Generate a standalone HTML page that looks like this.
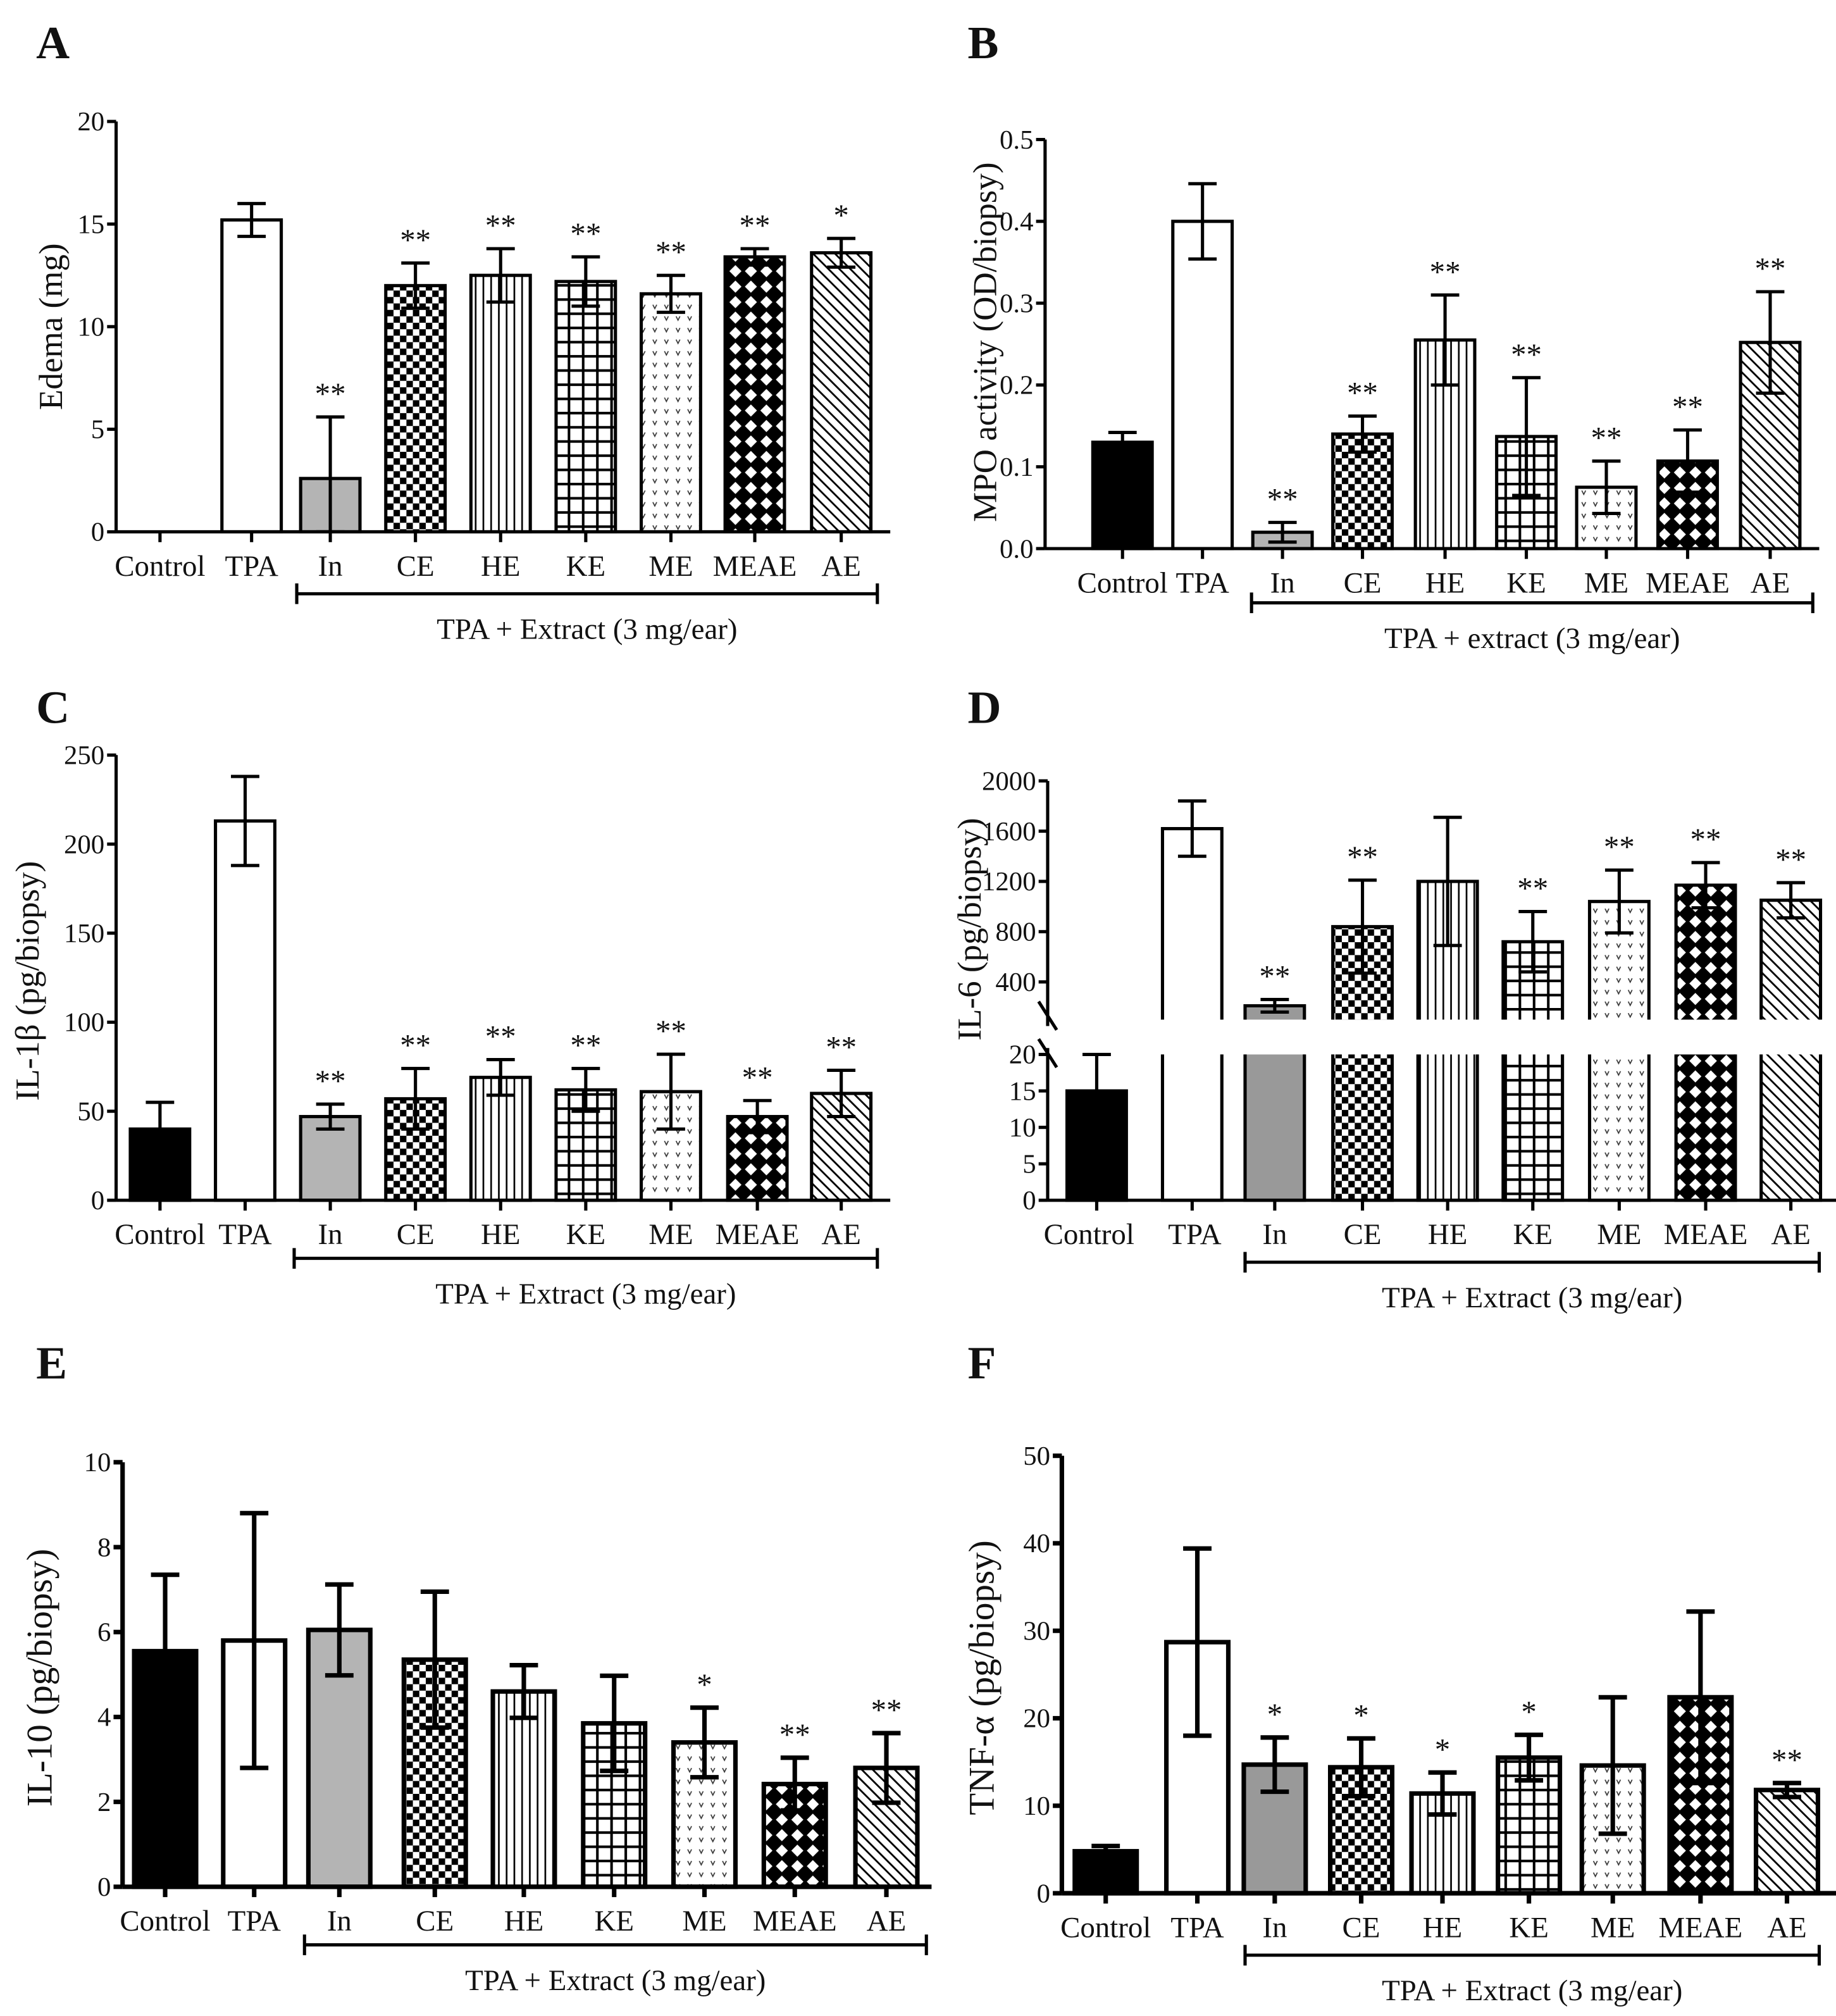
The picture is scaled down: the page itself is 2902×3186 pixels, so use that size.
<!DOCTYPE html>
<html><head><meta charset="utf-8"><style>
html,body{margin:0;padding:0;background:#fff}
svg{display:block}
text{font-family:"Liberation Serif",serif;fill:#111}
</style></head><body>
<svg id="fig" xmlns="http://www.w3.org/2000/svg" width="2902" height="3186" viewBox="0 0 1423 1562">
<defs>
<pattern id="p-ce" width="10" height="10" patternUnits="userSpaceOnUse"><rect width="10" height="10" fill="#fff"/><rect width="5" height="5" fill="#000"/><rect x="5" y="5" width="5" height="5" fill="#000"/></pattern>
<pattern id="p-he" width="6" height="6" patternUnits="userSpaceOnUse"><rect width="6" height="6" fill="#fff"/><rect x="2" width="1.3" height="6" fill="#000"/></pattern>
<pattern id="p-ke" width="11" height="11" patternUnits="userSpaceOnUse"><rect width="11" height="11" fill="#fff"/><rect width="2" height="11" fill="#000"/><rect width="11" height="2" fill="#000"/></pattern>
<pattern id="p-me" width="9" height="9" patternUnits="userSpaceOnUse"><rect width="9" height="9" fill="#fff"/><path d="M2 2 L3.5 5 L5 2" stroke="#333" stroke-width="0.8" fill="none"/></pattern>
<pattern id="p-meae" width="12" height="12" patternUnits="userSpaceOnUse"><rect width="12" height="12" fill="#000"/><path d="M6 1.3 L10.7 6 L6 10.7 L1.3 6 Z" fill="#fff"/></pattern>
<pattern id="p-ae" width="6" height="6" patternUnits="userSpaceOnUse" patternTransform="rotate(-45)"><rect width="6" height="6" fill="#fff"/><rect width="1.4" height="6" fill="#000"/></pattern>
</defs>
</svg>
<script>
const cats = ["Control","TPA","In","CE","HE","KE","ME","MEAE","AE"];
const fills = ["#000","#fff","#b4b4b4","url(#p-ce)","url(#p-he)","url(#p-ke)","url(#p-me)","url(#p-meae)","url(#p-ae)"];
// Panel A
const aVals = [0,15.2,2.6,12.0,12.5,12.2,11.6,13.4,13.6];
const aErr = [0,0.8,3.0,1.1,1.3,1.2,0.9,0.4,0.7];
const aStars = ["","","**","**","**","**","**","**","*"];
const aTicks = [0,5,10,15,20];
// Panel B
const bVals = [0.13,0.40,0.02,0.14,0.255,0.137,0.075,0.107,0.252];
const bErr = [0.012,0.046,0.012,0.022,0.055,0.072,0.032,0.038,0.062];
const bStars = ["","","**","**","**","**","**","**","**"];
const bTicks = [0,0.1,0.2,0.3,0.4,0.5];
// Panel C
const cVals = [40,213,47,57,69,62,61,47,60];
const cErr = [15,25,7,17,10,12,21,9,13];
const cStars = ["","","**","**","**","**","**","**","**"];
const cTicks = [0,50,100,150,200,250];
// Panel D (broken axis)
const dVals = [15,1620,210,840,1200,720,1040,1170,1050];
const dErr = [5,220,50,370,510,240,250,180,140];
const dStars = ["","","**","**","","**","**","**","**"];
const dTicksLow = [0,5,10,15,20];
const dTicksHigh = [400,800,1200,1600,2000];
// Panel E
const eVals = [5.55,5.8,6.05,5.35,4.6,3.85,3.4,2.42,2.8];
const eErr = [1.8,3.0,1.07,1.6,0.62,1.12,0.82,0.62,0.82];
const eStars = ["","","","","","","*","**","**"];
const eTicks = [0,2,4,6,8,10];
// Panel F
const fVals = [4.8,28.7,14.7,14.4,11.4,15.5,14.6,22.4,11.8];
const fErr = [0.6,10.7,3.1,3.3,2.4,2.6,7.8,9.8,0.8];
const fStars = ["","","*","*","*","*","","","**"];
const fTicks = [0,10,20,30,40,50];

const svg = document.getElementById('fig');
const NS = "http://www.w3.org/2000/svg";
function mk(tag, attrs, parent){
  const e = document.createElementNS(NS, tag);
  for (const k in attrs) e.setAttribute(k, attrs[k]);
  (parent||svg).appendChild(e);
  return e;
}
function txt(s, x, y, size, anchor, parent, extra){
  const t = mk('text', Object.assign({x:x, y:y, 'font-size':size, 'text-anchor':anchor||'middle'}, extra||{}), parent);
  t.textContent = s;
  return t;
}

function panel(cfg){
  const g = mk('g', {});
  
  
  const sw = cfg.sw;
  const y = v => cfg.y0 - (v - cfg.min) / (cfg.max - cfg.min) * (cfg.y0 - cfg.y1);
  const L = txt(cfg.letter, cfg.lx, cfg.ly, 36, 'start', g, {'font-weight':'bold'});
  
  
  cats.forEach((c, i) => {
    const cx = cfg.cx[i];
    const v = cfg.vals[i];
    const fill = (cfg.inFill && i === 2) ? cfg.inFill : fills[i];
    if (v > cfg.min) {
      const r = mk('rect', {x: cx - cfg.bw/2, y: y(v), width: cfg.bw, height: cfg.y0 - y(v), fill: fill, stroke:'#000', 'stroke-width': sw}, g);
      
      
    }
    const e = cfg.err[i];
    if (e > 0) {
      const lo = Math.max(v - e, cfg.min);
      const eb = mk('path', {d: `M${cx} ${y(lo)} V${y(v+e)} M${cx-11} ${y(v+e)} H${cx+11} M${cx-11} ${y(lo)} H${cx+11}`, stroke:'#000', 'stroke-width': sw, fill:'none'}, g);
      
      
    }
    if (cfg.stars[i]) {
      const s = txt(cfg.stars[i], cx, y(v+e) - 10, 24, 'middle', g);
      
      
    }
  });
  axes(g, cfg, y);
}

function axes(g, cfg, y){
  const sw = cfg.sw;
  const ya = mk('path', {d: `M${cfg.ax} ${cfg.y1} V${cfg.y0}`, stroke:'#000', 'stroke-width': sw, fill:'none'}, g);
  
  
  cfg.ticks.forEach(t => {
    mk('path', {d:`M${cfg.ax-7} ${y(t)} H${cfg.ax}`, stroke:'#000', 'stroke-width': sw}, g);
    const tl = txt(cfg.fmt ? cfg.fmt(t) : String(t), cfg.ax - 9, y(t) + 7, 21, 'end', g);
    
    
  });
  xaxis(g, cfg);
}

function xaxis(g, cfg){
  const sw = cfg.sw;
  const xa = mk('path', {d:`M${cfg.ax} ${cfg.y0} H${cfg.xend}`, stroke:'#000', 'stroke-width': sw}, g);
  
  
  cats.forEach((c, i) => {
    mk('path', {d:`M${cfg.cx[i]} ${cfg.y0} V${cfg.y0+8}`, stroke:'#000', 'stroke-width': sw}, g);
    const l = txt(c, cfg.cx[i] + (cfg.lshift ? cfg.lshift[i] : 0), cfg.y0 + 34, 23, 'middle', g);
    
    
  });
  const br = mk('path', {d:`M${cfg.bx0} ${cfg.by-8} V${cfg.by+8} M${cfg.bx0} ${cfg.by} H${cfg.bx1} M${cfg.bx1} ${cfg.by-8} V${cfg.by+8}`, stroke:'#000', 'stroke-width':2.5, fill:'none'}, g);
  
  
  const bt = txt(cfg.btitle, (cfg.bx0+cfg.bx1)/2, cfg.by + 35, 23, 'middle', g);
  
  
  const yt = txt(cfg.ylabel, 0, 0, cfg.ysize || 26, 'middle', g, {transform:`translate(${cfg.ylx},${cfg.yly}) rotate(-90)`});
  
  
}

panel({name:'panel-a-edema', letter:'A', lx:28, ly:45, vals:aVals, err:aErr, stars:aStars, ticks:aTicks,
  min:0, max:20, y0:412, y1:94, ax:90, xend:690, bw:46, sw:2.5,
  cx:[124,195,256,322,388,454,520,585,652], bx0:230, bx1:680, by:460, btitle:'TPA + Extract (3 mg/ear)',
  ylabel:'Edema  (mg)', ylx:48, yly:253, lshift:[0,0,0,0,0,0,0,0,0]});
panel({name:'panel-b-mpo', letter:'B', lx:750, ly:45, vals:bVals, err:bErr, stars:bStars, ticks:bTicks,
  min:0, max:0.5, y0:425, y1:108, ax:810, xend:1410, bw:46, sw:2.5, fmt:t=>t.toFixed(1),
  cx:[870,932,994,1056,1120,1183,1245,1308,1372], bx0:970, bx1:1405, by:467, btitle:'TPA + extract (3 mg/ear)',
  ylabel:'MPO activity (OD/biopsy)', ylx:772, yly:265});
panel({name:'panel-c-il1b', letter:'C', lx:28, ly:560, vals:cVals, err:cErr, stars:cStars, ticks:cTicks,
  min:0, max:250, y0:930, y1:585, ax:90, xend:690, bw:46, sw:2.5,
  cx:[124,190,256,322,388,454,520,587,652], bx0:228, bx1:680, by:975, btitle:'TPA + Extract (3 mg/ear)',
  ylabel:'IL-1β (pg/biopsy)', ylx:30, yly:760});
panel({name:'panel-e-il10', letter:'E', lx:28, ly:1068, vals:eVals, err:eErr, stars:eStars, ticks:eTicks,
  min:0, max:10, y0:1462, y1:1133, ax:95, xend:722, bw:48, sw:3.5,
  cx:[128,197,263,337,406,476,546,616,687], bx0:236, bx1:718, by:1507, btitle:'TPA + Extract (3 mg/ear)',
  ylabel:'IL-10 (pg/biopsy)', ylx:40, yly:1300, ysize:28});
panel({name:'panel-f-tnfa', letter:'F', lx:750, ly:1068, vals:fVals, err:fErr, stars:fStars, ticks:fTicks, inFill:'#999',
  min:0, max:50, y0:1467, y1:1128, ax:823, xend:1423, bw:48, sw:3.5,
  cx:[857,928,988,1055,1118,1185,1250,1318,1385], bx0:965, bx1:1410, by:1515, btitle:'TPA + Extract (3 mg/ear)',
  ylabel:'TNF-α (pg/biopsy)', ylx:770, yly:1300, ysize:28});

// Panel D with broken axis
(function(){
  const g = mk('g', {});
  
  
  const ax = 812, y0 = 930, yL = 817, yH0 = 790, yH1 = 605, hMin = 100, hMax = 2000, sw = 2.5, bw = 46;
  const cx = [850,924,988,1056,1122,1188,1255,1322,1388];
  const yl = v => y0 - v / 20 * (y0 - yL);
  const yh = v => yH0 - (v - hMin) / (hMax - hMin) * (yH0 - yH1);
  const yv = v => v <= 20 ? yl(v) : yh(v);
  const L = txt('D', 750, 560, 36, 'start', g, {'font-weight':'bold'});
  
  
  cats.forEach((c, i) => {
    const v = dVals[i], e = dErr[i], x = cx[i];
    const f = i === 2 ? '#999' : fills[i];
    if (v <= 20) {
      const r = mk('rect', {x:x-bw/2, y:yl(v), width:bw, height:y0-yl(v), fill:f, stroke:'#000', 'stroke-width':sw}, g);
      
      
    } else {
      const r1 = mk('rect', {x:x-bw/2, y:yL, width:bw, height:y0-yL, fill:f}, g);
      
      
      mk('path', {d:`M${x-bw/2} ${yL} V${y0} H${x+bw/2} V${yL}`, stroke:'#000', 'stroke-width':sw, fill:'none'}, g);
      const top = Math.max(v, hMin);
      const r2 = mk('rect', {x:x-bw/2, y:yh(top), width:bw, height:yH0-yh(top), fill:f}, g);
      
      
      mk('path', {d:`M${x-bw/2} ${yH0} V${yh(top)} H${x+bw/2} V${yH0}`, stroke:'#000', 'stroke-width':sw, fill:'none'}, g);
    }
    const eb = mk('path', {d:`M${x} ${yv(v-e)} V${yv(v+e)} M${x-11} ${yv(v+e)} H${x+11} M${x-11} ${yv(v-e)} H${x+11}`, stroke:'#000', 'stroke-width':sw, fill:'none'}, g);
    
    
    if (dStars[i]) {
      const s = txt(dStars[i], x, yv(v+e) - 10, 24, 'middle', g);
      
      
    }
  });
  const ya = mk('path', {d:`M${ax} ${yH1} V${yH0+5} M${ax} ${yL-5} V${y0}`, stroke:'#000', 'stroke-width':sw, fill:'none'}, g);
  
  
  const bk = mk('path', {d:`M${ax-7} ${yH0-14} L${ax+7} ${yH0+8} M${ax-7} ${yL-12} L${ax+7} ${yL+10}`, stroke:'#000', 'stroke-width':sw}, g);
  
  
  dTicksLow.forEach(t => {
    mk('path', {d:`M${ax-7} ${yl(t)} H${ax}`, stroke:'#000', 'stroke-width':sw}, g);
    const tl = txt(String(t), ax-9, yl(t)+7, 21, 'end', g);
    
    
  });
  dTicksHigh.forEach(t => {
    mk('path', {d:`M${ax-7} ${yh(t)} H${ax}`, stroke:'#000', 'stroke-width':sw}, g);
    const tl = txt(String(t), ax-9, yh(t)+7, 21, 'end', g);
    
    
  });
  xaxis(g, {sw:sw, ax:ax, y0:y0, xend:1423, cx:cx, bx0:965, bx1:1410, by:978, btitle:'TPA + Extract (3 mg/ear)',
    ylabel:'IL-6 (pg/biopsy)', ylx:760, yly:720, lshift:[-6,2,0,0,0,0,0,0,0]});
})();
</script>
</body></html>
